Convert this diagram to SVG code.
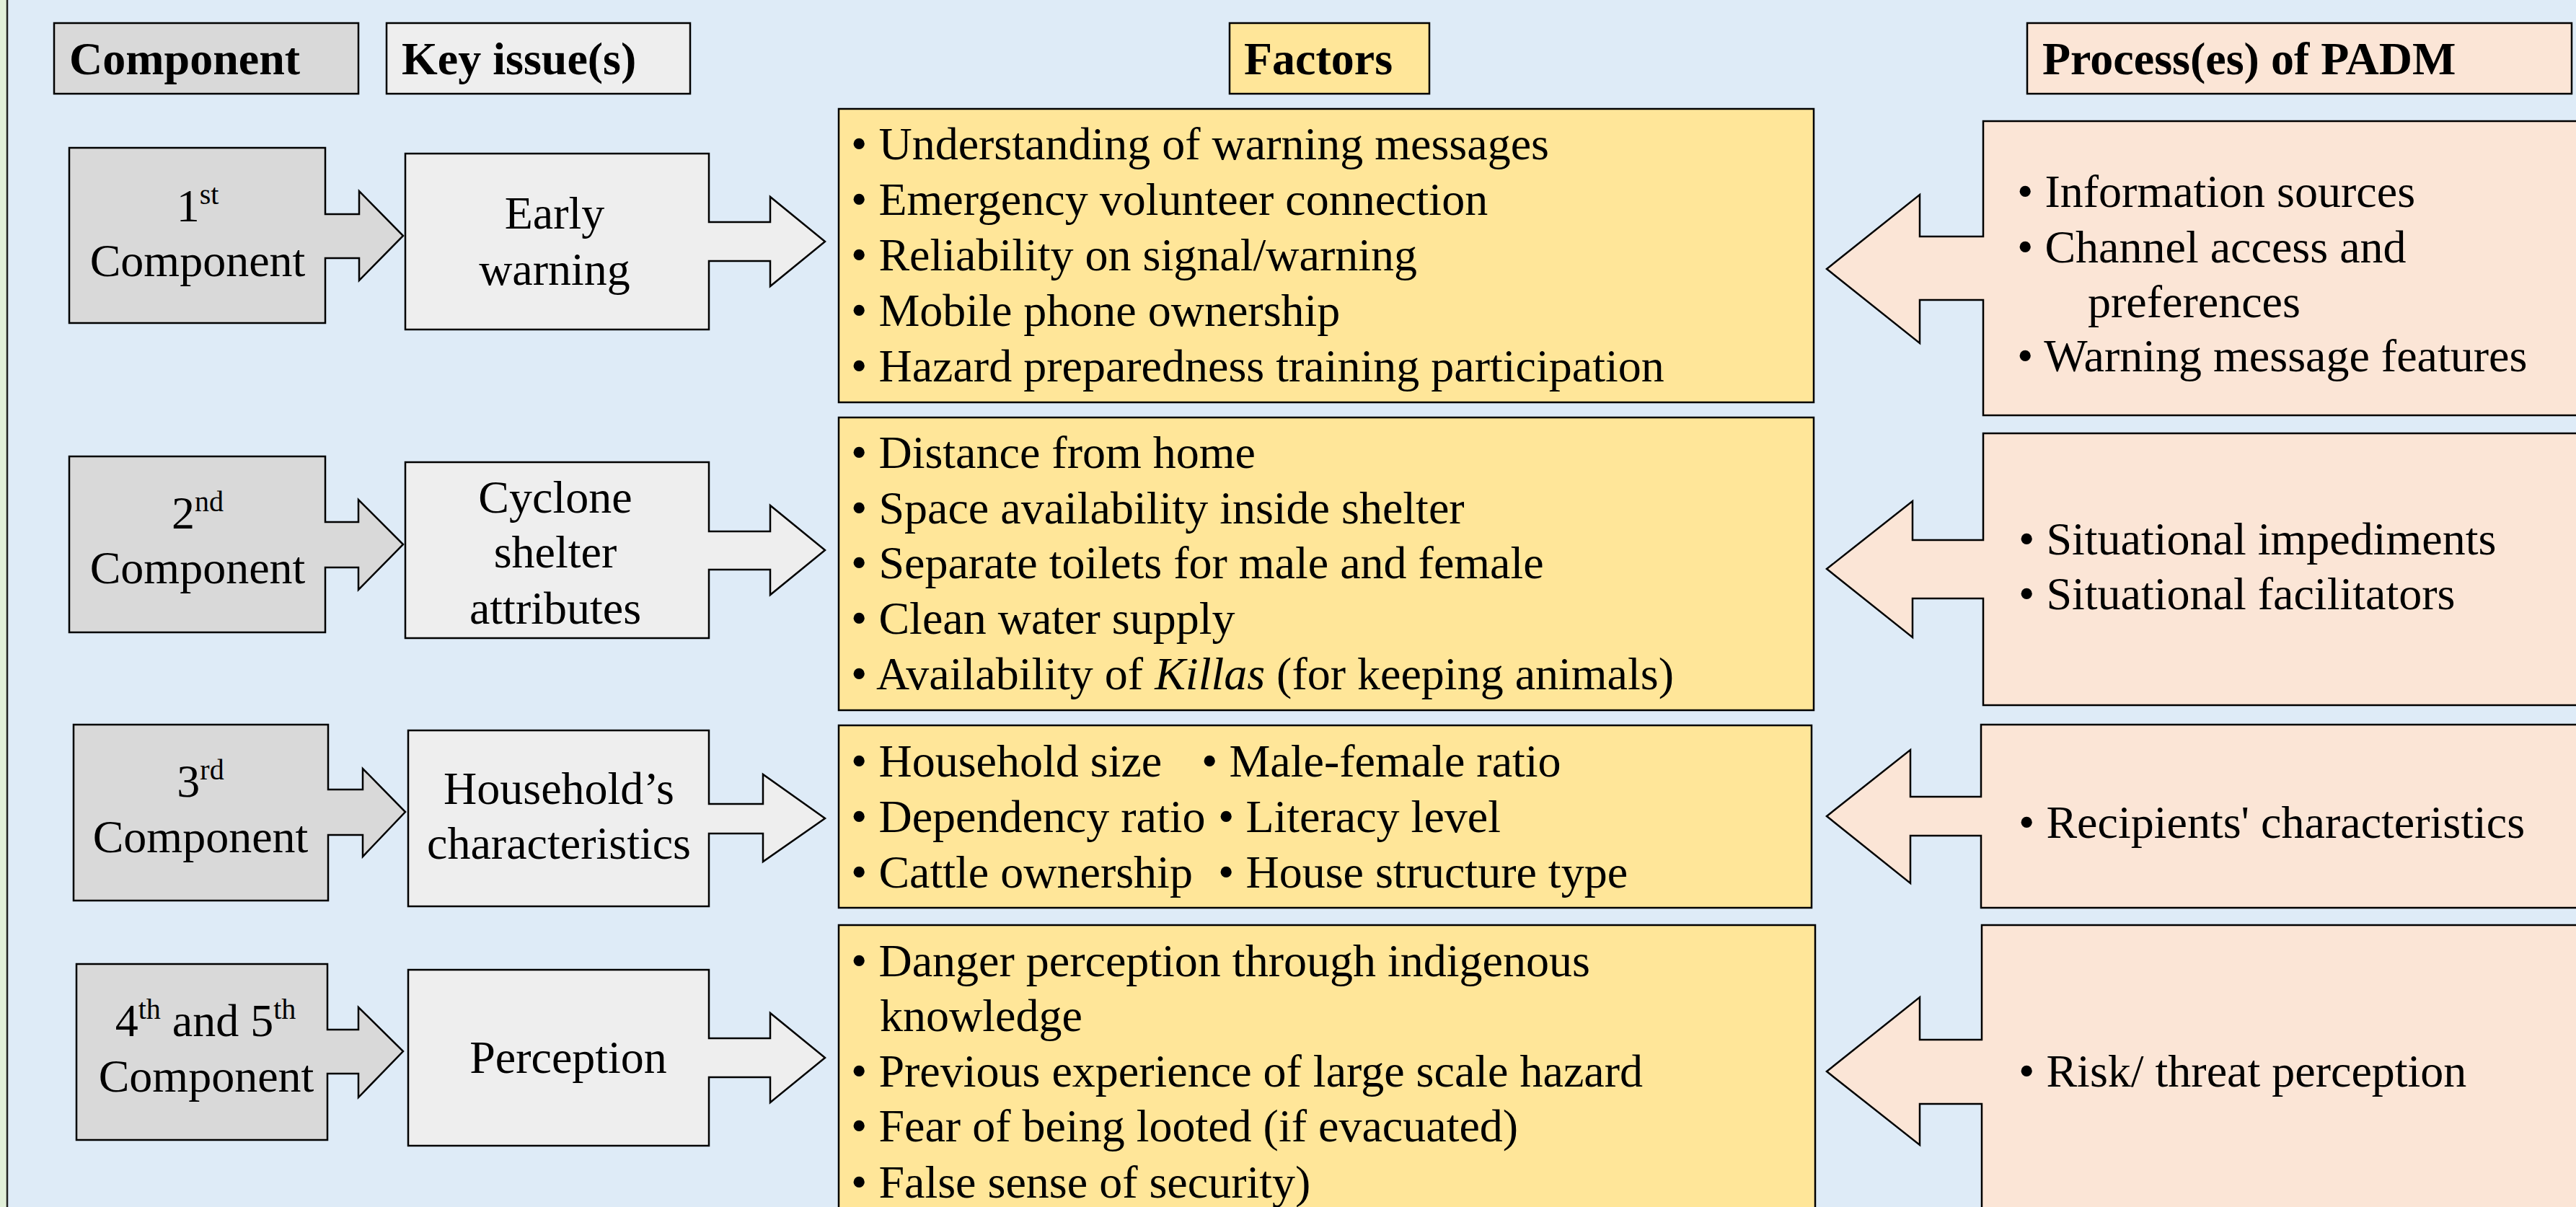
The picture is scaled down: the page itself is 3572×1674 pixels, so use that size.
<svg xmlns="http://www.w3.org/2000/svg" width="3572" height="1674" viewBox="0 0 3572 1674">
<style>
text{font-family:"Liberation Serif","Times New Roman",serif;font-size:64px;fill:#000}
.b{font-weight:bold}
.m{text-anchor:middle}
.sh{stroke:#000;stroke-width:2.5;stroke-linejoin:miter}
.comp{fill:#d9d9d9}
.key{fill:#eeeeee}
.fac{fill:#ffe699}
.pad{fill:#fbe5d6}
.sup{font-size:40px}
</style>
<rect x="0" y="0" width="3572" height="1674" fill="#e2f0d9"/>
<rect x="10" y="-10" width="3600" height="1700" fill="#deebf7" stroke="#222" stroke-width="2.5"/>

<g id="headers">
<g id="h-component"><rect class="sh comp" x="75" y="32" width="422" height="98"/><text class="b" x="96" y="103">Component</text></g>
<g id="h-key"><rect class="sh key" x="536" y="32" width="421" height="98"/><text class="b" x="557" y="103">Key issue(s)</text></g>
<g id="h-factors"><rect class="sh fac" x="1705" y="32" width="277" height="98"/><text class="b" x="1725" y="103">Factors</text></g>
<g id="h-padm"><rect class="sh pad" x="2811" y="32" width="755" height="98"/><text class="b" x="2832" y="103">Process(es) of PADM</text></g>
</g>

<g id="connectors"></g>

<g id="comp1"><path class="sh comp" d="M96,205 H451 V297 H498 V265 L559,327 L498,389 V358 H451 V448 H96 Z"/>
<text class="m" x="274" y="307">1<tspan class="sup" dy="-24">st</tspan></text><text class="m" x="274" y="383">Component</text></g>
<g id="key1"><path class="sh key" d="M562,213 H983 V308 H1068 V273 L1144,335 L1068,397 V362 H983 V457 H562 Z"/>
<text class="m" x="769" y="317">Early</text><text class="m" x="769" y="395">warning</text></g>

<g id="comp2"><path class="sh comp" d="M96,633 H451 V724 H497 V693 L559,755 L497,818 V787 H451 V877 H96 Z"/>
<text class="m" x="274" y="733">2<tspan class="sup" dy="-24">nd</tspan></text><text class="m" x="274" y="809">Component</text></g>
<g id="key2"><path class="sh key" d="M562,641 H983 V737 H1068 V701 L1144,763 L1068,825 V790 H983 V885 H562 Z"/>
<text class="m" x="770" y="711">Cyclone</text><text class="m" x="770" y="787">shelter</text><text class="m" x="770" y="865">attributes</text></g>

<g id="comp3"><path class="sh comp" d="M102,1005 H455 V1095 H503 V1066 L562,1126 L503,1188 V1158 H455 V1249 H102 Z"/>
<text class="m" x="278" y="1105">3<tspan class="sup" dy="-24">rd</tspan></text><text class="m" x="278" y="1182">Component</text></g>
<g id="key3"><path class="sh key" d="M566,1013 H983 V1115 H1058 V1074 L1144,1135 L1058,1195 V1156 H983 V1257 H566 Z"/>
<text class="m" x="775" y="1115">Household’s</text><text class="m" x="775" y="1191">characteristics</text></g>

<g id="comp4"><path class="sh comp" d="M106,1337 H454 V1428 H497 V1397 L559,1458 L497,1522 V1489 H454 V1581 H106 Z"/>
<text class="m" x="285" y="1437">4<tspan class="sup" dy="-24">th</tspan><tspan dy="24"> and 5</tspan><tspan class="sup" dy="-24">th</tspan></text><text class="m" x="286" y="1514">Component</text></g>
<g id="key4"><path class="sh key" d="M566,1345 H983 V1440 H1068 V1405 L1144,1467 L1068,1529 V1494 H983 V1589 H566 Z"/>
<text class="m" x="788" y="1488">Perception</text></g>

<g id="fac1"><rect class="sh fac" x="1163" y="151" width="1352" height="407"/>
<text x="1180" y="221">• Understanding of warning messages</text>
<text x="1180" y="298">• Emergency volunteer connection</text>
<text x="1180" y="375">• Reliability on signal/warning</text>
<text x="1180" y="452">• Mobile phone ownership</text>
<text x="1180" y="529">• Hazard preparedness training participation</text></g>

<g id="fac2"><rect class="sh fac" x="1163" y="579" width="1352" height="406"/>
<text x="1180" y="649">• Distance from home</text>
<text x="1180" y="726">• Space availability inside shelter</text>
<text x="1180" y="802">• Separate toilets for male and female</text>
<text x="1180" y="879">• Clean water supply</text>
<text x="1180" y="956">• Availability of <tspan font-style="italic">Killas</tspan> (for keeping animals)</text></g>

<g id="fac3"><rect class="sh fac" x="1163" y="1006" width="1349" height="253"/>
<text x="1180" y="1077">• Household size</text><text x="1666" y="1077">• Male-female ratio</text>
<text x="1180" y="1154">• Dependency ratio</text><text x="1689" y="1154">• Literacy level</text>
<text x="1180" y="1231">• Cattle ownership</text><text x="1689" y="1231">• House structure type</text></g>

<g id="fac4"><rect class="sh fac" x="1163" y="1283" width="1354" height="420"/>
<text x="1180" y="1354">• Danger perception through indigenous</text>
<text x="1220" y="1430">knowledge</text>
<text x="1180" y="1507">• Previous experience of large scale hazard</text>
<text x="1180" y="1583">• Fear of being looted (if evacuated)</text>
<text x="1180" y="1661">• False sense of security)</text></g>

<g id="padm1"><path class="sh pad" d="M3600,168 H2750 V328 H2662 V270 L2533,373 L2662,476 V416 H2750 V576 H3600"/>
<text x="2797" y="287">• Information sources</text>
<text x="2797" y="364">• Channel access and</text>
<text x="2895" y="440">preferences</text>
<text x="2797" y="515">• Warning message features</text></g>

<g id="padm2"><path class="sh pad" d="M3600,601 H2750 V749 H2652 V695 L2533,789 L2652,884 V830 H2750 V978 H3600"/>
<text x="2799" y="769">• Situational impediments</text>
<text x="2799" y="845">• Situational facilitators</text></g>

<g id="padm3"><path class="sh pad" d="M3600,1005 H2747 V1105 H2649 V1040 L2533,1132 L2649,1225 V1159 H2747 V1259 H3600"/>
<text x="2799" y="1162">• Recipients' characteristics</text></g>

<g id="padm4"><path class="sh pad" d="M3600,1283 H2748 V1442 H2662 V1383 L2533,1486 L2662,1588 V1531 H2748 V1710 H3600"/>
<text x="2799" y="1507">• Risk/ threat perception</text></g>
</svg>
